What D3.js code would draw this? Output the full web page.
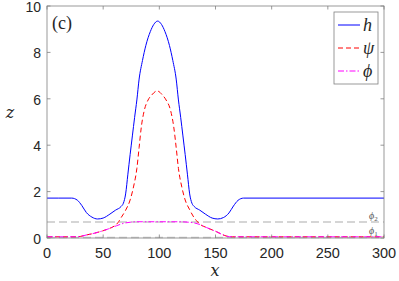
<!DOCTYPE html>
<html lang="en">
<head>
<meta charset="UTF-8">
<title>profiles</title>
<script src="https://cdn.jsdelivr.net/npm/d3@7"></script>
<style>
  body { margin: 0; background: #fff; }
  text { fill: #262626; }
</style>
</head>
<body>
<svg></svg>
<script>
    // values
    const hX = [0, 10, 22, 27, 31, 35, 40, 45, 50, 56, 61, 66, 68, 70, 72, 74, 76, 78, 80, 82, 85, 88, 92, 95, 98.5,
        102, 105, 109, 112, 115, 117, 119, 121, 123, 125, 127, 129, 131, 136, 141, 147, 152, 157, 162, 166, 170, 175, 300];
    const hZ = [1.72, 1.72, 1.72, 1.63, 1.4, 1.1, 0.9, 0.82, 0.86, 1.03, 1.2, 1.36, 1.5, 1.9, 2.75, 3.6, 4.4, 5.2, 5.95, 6.85, 7.65, 8.3, 8.9, 9.2, 9.35,
        9.2, 8.9, 8.3, 7.65, 6.85, 5.95, 5.2, 4.4, 3.6, 2.75, 1.9, 1.5, 1.36, 1.2, 1.03, 0.86, 0.82, 0.88, 1.08, 1.38, 1.62, 1.72, 1.72];

    const psiX = [0, 25, 30, 35, 40, 47, 55, 60, 63, 66, 70, 74, 77, 80, 82, 84, 86.6, 90, 93, 98,
        103, 106, 110, 112.8, 115, 117, 120, 123, 127, 130, 133, 136, 142, 147, 151, 156, 160, 165, 300];
    const psiZ = [0.05, 0.05, 0.07, 0.13, 0.18, 0.27, 0.4, 0.52, 0.65, 0.88, 1.2, 1.64, 2.2, 3.0, 3.9, 4.8, 5.5, 5.95, 6.15, 6.34,
        6.15, 5.95, 5.5, 4.8, 3.9, 3.0, 2.2, 1.64, 1.22, 0.95, 0.75, 0.6, 0.45, 0.35, 0.27, 0.15, 0.08, 0.05, 0.05];

    const phiX = [0, 25, 30, 35, 40, 47, 55, 62, 68, 74, 80, 118, 126, 131, 136, 142, 147, 151, 156, 160, 165, 300];
    const phiZ = [0.05, 0.05, 0.07, 0.13, 0.18, 0.27, 0.4, 0.53, 0.63, 0.68, 0.7, 0.7, 0.68, 0.65, 0.58, 0.45, 0.35, 0.27, 0.15, 0.08, 0.05, 0.05];

    const phi1 = 0.02, phi2 = 0.69;
    const xTicks = [0, 50, 100, 150, 200, 250, 300];
    const yTicks = [0, 2, 4, 6, 8, 10];

    const W = 399, H = 281;
    const svg = d3.select('svg').attr('width', W).attr('height', H);

    const x = d3.scaleLinear().domain([0, 300]).range([47, 384]);
    const y = d3.scaleLinear().domain([0, 10]).range([238, 6]);

    // reference lines phi1, phi2
    svg.selectAll('.ref')
        .data([phi1, phi2])
        .join('line')
        .attr('x1', x(0)).attr('x2', x(300))
        .attr('y1', d => y(d)).attr('y2', d => y(d))
        .attr('stroke', '#c8c8c8')
        .attr('stroke-width', 1.5)
        .attr('stroke-dasharray', '8,4');

    const line = d3.line().x(d => x(d[0])).y(d => y(d[1])).curve(d3.curveMonotoneX);

    const series = [
        { xs: hX, zs: hZ, color: '#0000ff', dash: null },
        { xs: psiX, zs: psiZ, color: '#ff0000', dash: '5,3' },
        { xs: phiX, zs: phiZ, color: '#ff00ff', dash: '6,2,1.5,2' }
    ];

    svg.append('g')
        .selectAll('path')
        .data(series)
        .join('path')
        .attr('d', s => line(s.xs.map((v, i) => [v, s.zs[i]])))
        .attr('fill', 'none')
        .attr('stroke', s => s.color)
        .attr('stroke-width', 1)
        .attr('stroke-dasharray', s => s.dash);

    // box
    svg.append('rect')
        .attr('x', x(0)).attr('y', y(10))
        .attr('width', x(300) - x(0)).attr('height', y(0) - y(10))
        .attr('fill', 'none')
        .attr('stroke', '#808080')
        .attr('stroke-width', 0.8);

    const tick = '#808080';
    const tk = 3.5;
    // x ticks bottom and top
    xTicks.forEach(t => {
        svg.append('line').attr('x1', x(t)).attr('x2', x(t)).attr('y1', y(0)).attr('y2', y(0) - tk).attr('stroke', tick).attr('stroke-width', 0.8);
        svg.append('line').attr('x1', x(t)).attr('x2', x(t)).attr('y1', y(10)).attr('y2', y(10) + tk).attr('stroke', tick).attr('stroke-width', 0.8);
        svg.append('text').attr('x', x(t)).attr('y', 258)
            .attr('text-anchor', 'middle')
            .attr('font-family', 'Liberation Sans, Arial, sans-serif')
            .attr('font-size', 14.5)
            .text(t);
    });
    yTicks.forEach(t => {
        svg.append('line').attr('x1', x(0)).attr('x2', x(0) + tk).attr('y1', y(t)).attr('y2', y(t)).attr('stroke', tick).attr('stroke-width', 0.8);
        svg.append('line').attr('x1', x(300)).attr('x2', x(300) - tk).attr('y1', y(t)).attr('y2', y(t)).attr('stroke', tick).attr('stroke-width', 0.8);
        svg.append('text').attr('x', 41).attr('y', y(t) + 5.8)
            .attr('text-anchor', 'end')
            .attr('font-family', 'Liberation Sans, Arial, sans-serif')
            .attr('font-size', 14)
            .text(t);
    });

    // axis labels
    svg.append('text').attr('x', 215).attr('y', 276)
        .attr('text-anchor', 'middle')
        .attr('font-family', 'DejaVu Serif, serif').attr('font-style', 'italic').attr('font-size', 16)
        .text('x');
    svg.append('text').attr('x', 10).attr('y', 118)
        .attr('text-anchor', 'middle')
        .attr('font-family', 'DejaVu Serif, serif').attr('font-style', 'italic').attr('font-size', 16)
        .text('z');

    // panel label
    svg.append('text').attr('x', 52).attr('y', 29)
        .attr('font-family', 'Liberation Serif, serif').attr('font-size', 18)
        .text('(c)');

    // phi labels
    [[phi2, '2', 219], [phi1, '1', 234]].forEach(([v, s, yy]) => {
        const t = svg.append('text').attr('x', 369).attr('y', yy)
            .attr('font-family', 'Liberation Serif, serif').attr('font-style', 'italic').attr('font-size', 10)
            .style('fill', '#555');
        t.append('tspan').text('ϕ');
        t.append('tspan').attr('font-size', 7).attr('dy', 2).attr('font-style', 'normal').text(s);
    });

    // legend
    const lg = svg.append('g');
    lg.append('rect').attr('x', 334).attr('y', 12).attr('width', 44).attr('height', 72)
        .attr('fill', '#fff').attr('stroke', '#808080').attr('stroke-width', 0.8);
    const names = ['h', 'ψ', 'ϕ'];
    series.forEach((s, i) => {
        const yy = 25 + i * 23;
        lg.append('line').attr('x1', 338).attr('x2', 360).attr('y1', yy).attr('y2', yy)
            .attr('stroke', s.color).attr('stroke-width', 1).attr('stroke-dasharray', s.dash);
        lg.append('text').attr('x', 363).attr('y', yy + 6)
            .attr('font-family', 'Liberation Serif, serif').attr('font-style', 'italic').attr('font-size', 18)
            .text(names[i]);
    });
</script>
</body>
</html>
